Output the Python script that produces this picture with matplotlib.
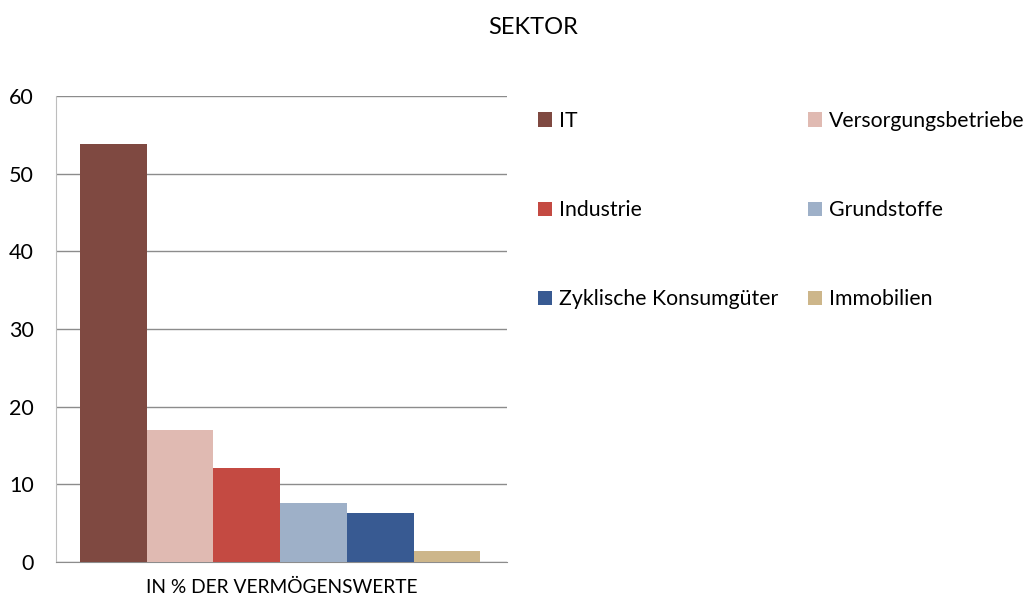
import matplotlib.pyplot as plt
from matplotlib.patches import Patch

sectors = ['IT', 'Versorgungsbetriebe', 'Industrie', 'Grundstoffe',
           'Zyklische Konsumgüter', 'Immobilien']
values = [53.8, 17.0, 12.1, 7.6, 6.3, 1.4]
colors = ['#7F4941', '#E0BAB2', '#C44A42', '#9EB0C8', '#385A92', '#CDB68A']
category = 'IN % DER VERMÖGENSWERTE'

plt.rcParams['font.family'] = ['Lato', 'DejaVu Sans']

fig = plt.figure(figsize=(10.24, 5.99), dpi=100)
ax = fig.add_axes([56 / 1024, 37 / 599, 451 / 1024, 466 / 599])

x = list(range(len(values)))
bars = ax.bar(x, values, width=1.0, color=colors, zorder=3)

ax.set_xlim(-0.86, 5.9)
ax.set_ylim(0, 60)
ax.set_yticks([0, 10, 20, 30, 40, 50, 60])
ax.tick_params(axis='y', length=0, labelsize=15.5, pad=16)
ax.set_xticks([])
ax.grid(axis='y', color='#8c8c8c', linewidth=1, zorder=0)
for side in ['top', 'right']:
    ax.spines[side].set_visible(False)
ax.spines['left'].set_color('#bdbdbd')
ax.spines['bottom'].set_color('#8c8c8c')
ax.set_xlabel(category, fontsize=13.8, labelpad=12)

fig.text(533 / 1024, 1 - 28 / 599, 'SEKTOR', ha='center', va='center', fontsize=17)

handles = [Patch(facecolor=c, label=s) for c, s in zip(colors, sectors)]
common = dict(frameon=False, fontsize=15.3, handlelength=0.65, handleheight=0.65,
              handletextpad=0.35, labelspacing=3.25, borderaxespad=0, borderpad=0)
fig.legend(handles[0::2], sectors[0::2], loc='upper left',
           bbox_to_anchor=(538 / 1024, 1 - 111 / 599), **common)
fig.legend(handles[1::2], sectors[1::2], loc='upper left',
           bbox_to_anchor=(808 / 1024, 1 - 111 / 599), **common)

fig.savefig('out.png', dpi=100)
